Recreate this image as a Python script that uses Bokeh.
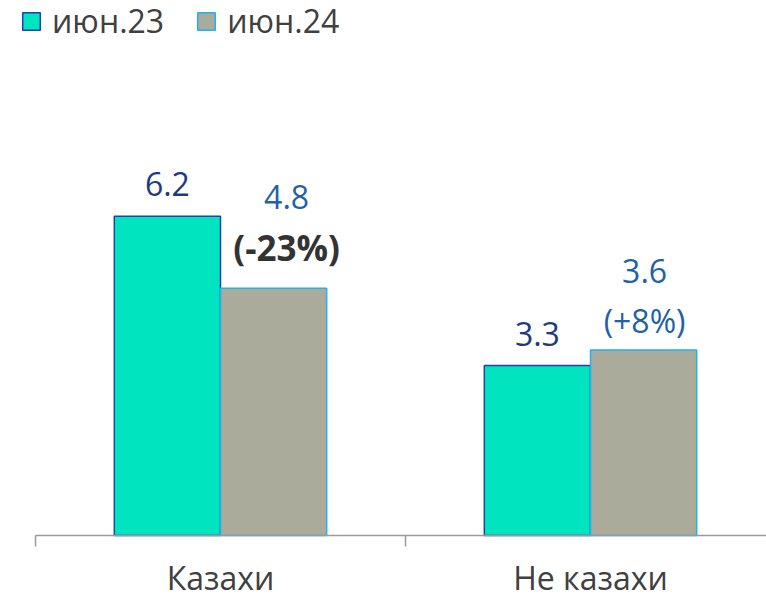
import math
from bokeh.plotting import figure
from bokeh.models import ColumnDataSource, Range1d, Legend, LegendItem
from bokeh.core.properties import value
from bokeh.embed import file_html
from bokeh.resources import INLINE

categories = ["Казахи", "Не казахи"]
series_names = ["июн.23", "июн.24"]
values_jun23 = [6.2, 3.3]
values_jun24 = [4.8, 3.6]
change_labels = ["(-23%)", "(+8%)"]

FONT = "Open Sans"
fill23, line23, text23 = "#00E5BF", "#1F3FAF", "#1F3A80"
fill24, line24, text24 = "#ABAB9C", "#1FB2F0", "#1F62A6"
axis_color = "#9A9A9A"
change_colors = ["#333333", text24]
change_styles = ["bold", "normal"]
change_sizes = ["35px", "32px"]
change_offsets = [-41, -30]
value24_offsets = [-91, -79]
label24_x_offsets = [13, 1]

W, H = 766, 598
PX_PER_UNIT = 51.5
PX_PER_CAT = 370
LEFT, BASE = 35, 535

bar_w = 0.287
n = len(categories)
centers = [i + 0.5 for i in range(n)]
x_start, x_end = -LEFT / PX_PER_CAT, (W - LEFT) / PX_PER_CAT

p = figure(width=W, height=H, output_backend="svg", toolbar_location=None,
           x_range=Range1d(x_start, x_end),
           y_range=Range1d(-(H - BASE) / PX_PER_UNIT, BASE / PX_PER_UNIT),
           x_axis_location=None, y_axis_location=None,
           min_border_left=0, min_border_right=0, min_border_top=0, min_border_bottom=0)
p.outline_line_color = None
p.xgrid.visible = False
p.ygrid.visible = False
p.background_fill_color = "white"
p.border_fill_color = "white"

src23 = ColumnDataSource(dict(x=[c - bar_w / 2 for c in centers], top=values_jun23,
                              label=[f"{v:.1f}" for v in values_jun23]))
src24 = ColumnDataSource(dict(x=[c + bar_w / 2 for c in centers], top=values_jun24,
                              label=[f"{v:.1f}" for v in values_jun24],
                              change=change_labels, ccolor=change_colors,
                              cstyle=change_styles, csize=change_sizes, coff=change_offsets,
                              voff=value24_offsets, xoff=label24_x_offsets))

r23 = p.vbar(x="x", top="top", bottom=0, width=bar_w, source=src23,
             fill_color=fill23, line_color=line23, line_width=1.5)
r24 = p.vbar(x="x", top="top", bottom=0, width=bar_w, source=src24,
             fill_color=fill24, line_color=line24, line_width=1.5)

# category axis: baseline, boundary ticks, labels
p.segment(x0=[0], y0=[0], x1=[x_end], y1=[0], line_color=axis_color, line_width=1.5)
p.ray(x=[float(i) for i in range(n + 1)], y=[0] * (n + 1), length=11, length_units="screen",
      angle=-math.pi / 2, line_color=axis_color, line_width=1.5)
p.text(x=centers, y=[0] * n, text=categories, text_align="center", text_baseline="middle",
       y_offset=42, text_font=value(FONT), text_font_size="32px", text_color="#404040")

p.text(x="x", y="top", text="label", source=src23, text_align="center",
       text_baseline="alphabetic", y_offset=-32, text_font=value(FONT),
       text_font_size="32px", text_color=text23)
p.text(x="x", y="top", text="change", source=src24, text_align="center",
       text_baseline="alphabetic", x_offset="xoff", y_offset="coff", text_font=value(FONT),
       text_font_size="csize", text_font_style="cstyle", text_color="ccolor")
p.text(x="x", y="top", text="label", source=src24, text_align="center",
       text_baseline="alphabetic", x_offset="xoff", y_offset="voff", text_font=value(FONT),
       text_font_size="32px", text_color=text24)

legend = Legend(items=[LegendItem(label=series_names[0], renderers=[r23]),
                       LegendItem(label=series_names[1], renderers=[r24])],
                location=(20, 556), orientation="horizontal",
                glyph_width=22, glyph_height=22, label_standoff=10, spacing=31,
                padding=0, margin=0, border_line_color=None, background_fill_alpha=0,
                label_text_font=FONT, label_text_font_size="32px", label_text_color="#404040")
p.add_layout(legend)

open("out.html", "w").write(file_html(p, INLINE))
